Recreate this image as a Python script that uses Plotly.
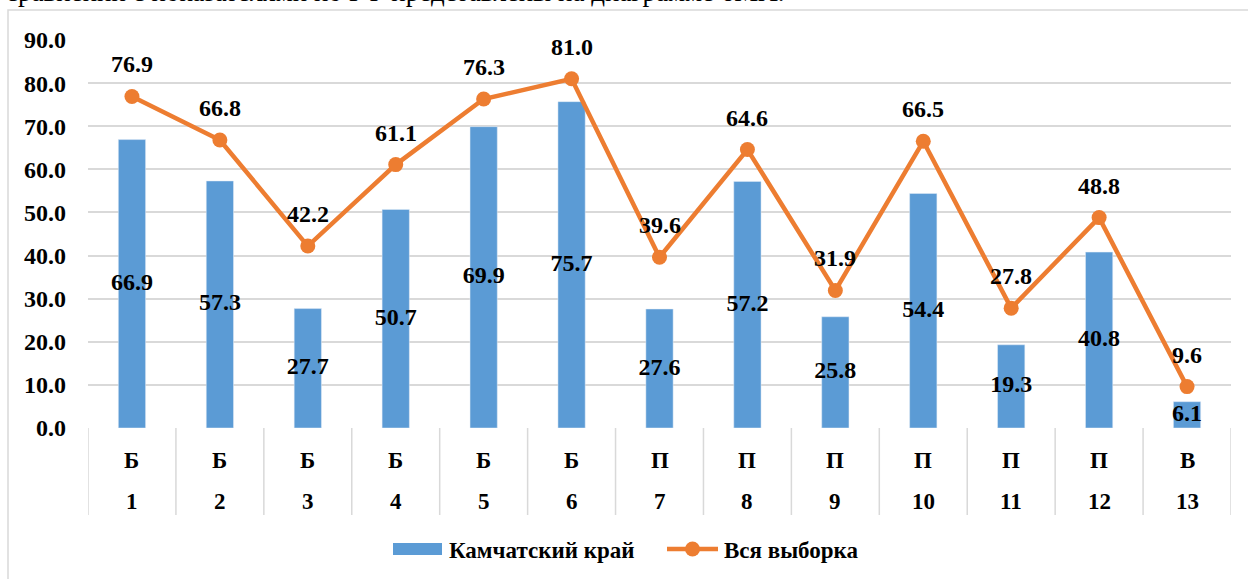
import plotly.graph_objects as go

groups = ["Б", "Б", "Б", "Б", "Б", "Б", "П", "П", "П", "П", "П", "П", "В"]
numbers = ["1", "2", "3", "4", "5", "6", "7", "8", "9", "10", "11", "12", "13"]
kamchatka = [66.9, 57.3, 27.7, 50.7, 69.9, 75.7, 27.6, 57.2, 25.8, 54.4, 19.3, 40.8, 6.1]
sample = [76.9, 66.8, 42.2, 61.1, 76.3, 81.0, 39.6, 64.6, 31.9, 66.5, 27.8, 48.8, 9.6]
y_ticks = [0, 10, 20, 30, 40, 50, 60, 70, 80, 90]

BLUE = "#5B9BD5"
ORANGE = "#ED7D31"
GRID = "#D9D9D9"
FONT = "Liberation Serif"
FS = 23
FSN = 24

W, H = 1248, 579
SL, SR, ST, SB = 88, 1231, 40, 428
L, T = SL, ST
pw, ph = SR - SL, SB - ST
R = W - L - pw
B = H - T - ph


def px_x(px):
    return (px - SL) / pw


def px_y(py):
    return (SB - py) / ph


xs = list(range(1, len(numbers) + 1))

fig = go.Figure()
fig.add_trace(go.Bar(x=xs, y=kamchatka, name="Камчатский край", marker_color=BLUE,
                     width=0.31, showlegend=False, hoverinfo="y"))
fig.add_trace(go.Scatter(x=xs, y=sample, name="Вся выборка", mode="lines+markers",
                         line=dict(color=ORANGE, width=4.5), marker=dict(color=ORANGE, size=15),
                         showlegend=False))
fig.add_trace(go.Scatter(x=xs, y=[v / 2 for v in kamchatka], mode="text",
                         text=[f"<b>{v:.1f}</b>" for v in kamchatka],
                         textfont=dict(family=FONT, size=FSN, color="black"),
                         showlegend=False, hoverinfo="skip"))

annotations = []
for x, v in zip(xs, sample):
    annotations.append(dict(x=x, y=v, xref="x", yref="y", text=f"<b>{v:.1f}</b>",
                            showarrow=False, yshift=32,
                            font=dict(family=FONT, size=FSN, color="black")))

shapes = []
for i in range(len(numbers) + 1):
    shapes.append(dict(type="line", xref="x", yref="paper", x0=0.5 + i, x1=0.5 + i,
                       y0=px_y(428), y1=px_y(515), line=dict(color=GRID, width=1.5)))
for x, g, n in zip(xs, groups, numbers):
    annotations.append(dict(x=x, y=px_y(460), xref="x", yref="paper", text=f"<b>{g}</b>",
                            showarrow=False, yanchor="middle",
                            font=dict(family=FONT, size=FS, color="black")))
    annotations.append(dict(x=x, y=px_y(501), xref="x", yref="paper", text=f"<b>{n}</b>",
                            showarrow=False, yanchor="middle",
                            font=dict(family=FONT, size=FS, color="black")))

shapes.append(dict(type="rect", xref="paper", yref="paper", x0=px_x(8), x1=px_x(1270),
                   y0=px_y(600), y1=px_y(10), line=dict(color=GRID, width=1.5), layer="below"))

shapes.append(dict(type="rect", xref="paper", yref="paper", x0=px_x(393), x1=px_x(442),
                   y0=px_y(555), y1=px_y(543), fillcolor=BLUE, line=dict(width=0)))
annotations.append(dict(x=px_x(447), y=px_y(550), xref="paper", yref="paper",
                        text="<b>Камчатский край</b>", showarrow=False, xanchor="left",
                        yanchor="middle", font=dict(family=FONT, size=FS, color="black")))
shapes.append(dict(type="line", xref="paper", yref="paper", x0=px_x(667), x1=px_x(718),
                   y0=px_y(549), y1=px_y(549), line=dict(color=ORANGE, width=4.5)))
shapes.append(dict(type="circle", xref="paper", yref="paper", x0=px_x(685), x1=px_x(700),
                   y0=px_y(556.5), y1=px_y(541.5), fillcolor=ORANGE, line=dict(width=0)))
annotations.append(dict(x=px_x(722), y=px_y(550), xref="paper", yref="paper",
                        text="<b>Вся выборка</b>", showarrow=False, xanchor="left",
                        yanchor="middle", font=dict(family=FONT, size=FS, color="black")))

annotations.append(dict(x=px_x(4), y=px_y(9), xref="paper", yref="paper",
                        text="сравнении с показателями по РФ представлены на диаграмме 6МА.",
                        showarrow=False, xanchor="left", yanchor="bottom",
                        font=dict(family=FONT, size=27, color="black")))

fig.update_layout(
    width=W, height=H,
    margin=dict(l=L, r=R, t=T, b=B, autoexpand=False),
    paper_bgcolor="white", plot_bgcolor="white",
    xaxis=dict(range=[0.5, len(numbers) + 0.5], showticklabels=False, showgrid=False,
               zeroline=False, showline=False, ticks=""),
    yaxis=dict(range=[0, 90], tickvals=y_ticks, ticktext=[f"<b>{v:.1f}</b>" for v in y_ticks],
               showgrid=True, gridcolor=GRID, gridwidth=1.5, zeroline=False,
               showline=False, ticklabelstandoff=21,
               tickfont=dict(family=FONT, size=FSN, color="black")),
    shapes=shapes,
    annotations=annotations,
    showlegend=False,
)

fig.write_html("out.html", config={"displayModeBar": False},
               post_script="document.body.style.margin='0';")
